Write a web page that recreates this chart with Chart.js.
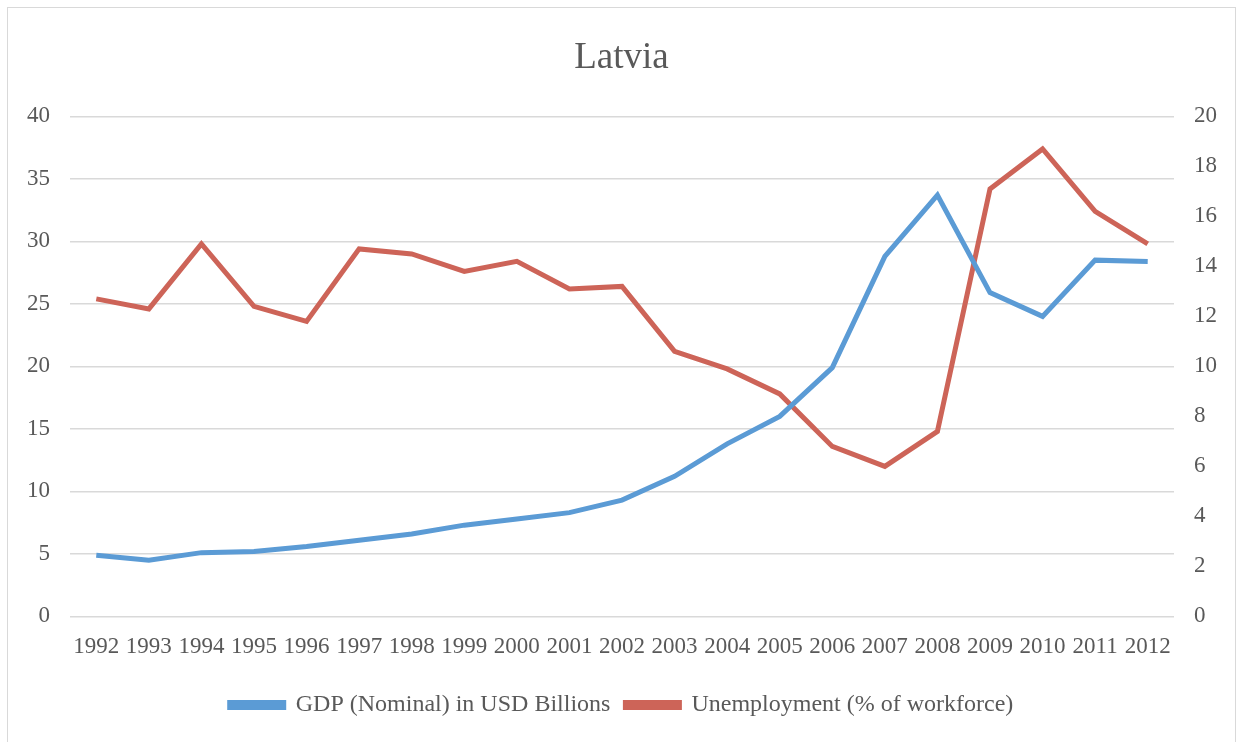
<!DOCTYPE html>
<html>
<head>
<meta charset="utf-8">
<script src="https://cdn.jsdelivr.net/npm/chart.js@4"></script>
<style>
  html, body { margin: 0; padding: 0; background: #fff; }
  #frame {
    position: absolute; left: 7px; top: 7px;
    width: 1229px; height: 760px;
    border: 1px solid #d9d9d9; box-sizing: border-box;
  }
  #wrap { position: absolute; left: 0; top: 0; width: 1227px; height: 758px; }
</style>
</head>
<body>
<div id="frame"><div id="wrap"><canvas id="latviaChart"></canvas></div></div>
<script>
// data
const years = ['1992','1993','1994','1995','1996','1997','1998','1999','2000','2001','2002',
               '2003','2004','2005','2006','2007','2008','2009','2010','2011','2012'];
const gdpBillions = [4.9, 4.5, 5.1, 5.2, 5.6, 6.1, 6.6, 7.3, 7.8, 8.3, 9.3,
                     11.2, 13.8, 16.0, 19.9, 28.8, 33.7, 25.9, 24.0, 28.5, 28.4];
const unemploymentPct = [12.7, 12.3, 14.9, 12.4, 11.8, 14.7, 14.5, 13.8, 14.2, 13.1, 13.2,
                         10.6, 9.9, 8.9, 6.8, 6.0, 7.4, 17.1, 18.7, 16.2, 14.9];
const leftTicks = { min: 0, max: 40, step: 5 };
const rightTicks = { min: 0, max: 20, step: 2 };

const textGrey = '#595959';
const serif = "'Liberation Serif', 'Times New Roman', serif";

Chart.defaults.font.family = serif;
Chart.defaults.color = textGrey;

new Chart(document.getElementById('latviaChart').getContext('2d'), {
    type: 'line',
    data: {
        labels: years,
        datasets: [
            {
                label: 'GDP (Nominal) in USD Billions',
                data: gdpBillions,
                borderColor: '#5b9bd5',
                backgroundColor: '#5b9bd5',
                borderWidth: 5,
                pointRadius: 0,
                tension: 0,
                yAxisID: 'y'
            },
            {
                label: 'Unemployment (% of workforce)',
                data: unemploymentPct,
                borderColor: '#cd6458',
                backgroundColor: '#cd6458',
                borderWidth: 5,
                pointRadius: 0,
                tension: 0,
                yAxisID: 'y1'
            }
        ]
    },
    options: {
        responsive: true,
        maintainAspectRatio: false,
        animation: false,
        layout: { padding: { left: 0, right: 0, top: 0, bottom: 39 } },
        plugins: {
            title: {
                display: true,
                text: 'Latvia',
                color: textGrey,
                font: { size: 37, weight: 'normal' },
                padding: { top: 28, bottom: 36 }
            },
            legend: {
                position: 'bottom',
                labels: {
                    boxWidth: 54,
                    boxHeight: 5,
                    padding: 15,
                    color: textGrey,
                    font: { size: 24 }
                }
            },
            tooltip: { enabled: false }
        },
        scales: {
            x: {
                offset: true,
                grid: { display: false, drawTicks: false },
                border: { display: false },
                ticks: { font: { size: 23 }, padding: 17, maxRotation: 0, autoSkip: false }
            },
            y: {
                position: 'left',
                min: leftTicks.min,
                max: leftTicks.max,
                ticks: { stepSize: leftTicks.step, font: { size: 23 }, padding: 20 },
                grid: { color: '#d9d9d9', lineWidth: 1.5, drawTicks: false },
                border: { display: false },
                afterFit: (axis) => { axis.width = 62; }
            },
            y1: {
                position: 'right',
                min: rightTicks.min,
                max: rightTicks.max,
                ticks: { stepSize: rightTicks.step, font: { size: 23 }, padding: 20 },
                grid: { display: false, drawTicks: false },
                border: { display: false },
                afterFit: (axis) => { axis.width = 61; }
            }
        }
    }
});
</script>
</body>
</html>
